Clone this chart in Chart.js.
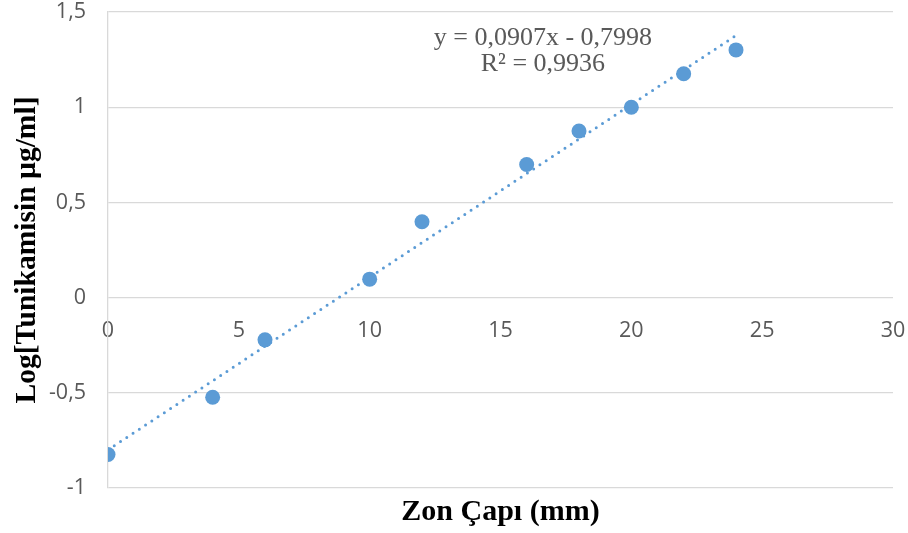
<!DOCTYPE html>
<html>
<head>
<meta charset="utf-8">
<script src="https://cdn.jsdelivr.net/npm/chart.js@4/dist/chart.umd.min.js"></script>
<style>
  html, body { margin: 0; padding: 0; background: #ffffff; }
  #wrap { width: 908px; height: 533px; }
</style>
</head>
<body>
<div id="wrap"><canvas id="c" width="908" height="533"></canvas></div>
<script>
// Zone diameter (mm) and log of tunicamycin concentration
const zoneDiameter = [0, 4, 6, 10, 12, 16, 18, 20, 22, 24];
const logConcentration = [-0.824, -0.523, -0.222, 0.097, 0.398, 0.699, 0.875, 1.0, 1.176, 1.301];

// Linear trendline coefficients and fit quality
const trendSlope = 0.0907;
const trendIntercept = -0.7998;
const trendR2 = 0.9936;

const xTicks = [0, 5, 10, 15, 20, 25, 30];
const yTicks = [-1, -0.5, 0, 0.5, 1, 1.5];

const xTitle = 'Zon Çapı (mm)';
const yTitle = 'Log[Tunikamisin µg/ml]';

const fmt = v => String(v).replace('.', ',');

const pointData = zoneDiameter.map((x, i) => ({ x: x, y: logConcentration[i] }));
const xMin = Math.min(...zoneDiameter), xMax = Math.max(...zoneDiameter);
const trendData = [xMin, xMax].map(x => ({ x: x, y: trendSlope * x + trendIntercept }));

const BLUE = '#5b9bd5';
const GRID = '#d9d9d9';
const TEXT = '#595959';

// Axis titles and the regression equation are painted after the chart
const annotations = {
  id: 'annotations',
  afterDraw(chart) {
    const { ctx, chartArea: a } = chart;
    ctx.save();
    ctx.fillStyle = '#000000';
    ctx.textAlign = 'center';
    ctx.textBaseline = 'middle';
    ctx.font = 'bold 30px "Liberation Serif", "Times New Roman", serif';
    ctx.fillText(xTitle, (a.left + a.right) / 2, 512);
    ctx.save();
    ctx.font = 'bold 29.5px "Liberation Serif", "Times New Roman", serif';
    ctx.translate(27, (a.top + a.bottom) / 2);
    ctx.rotate(-Math.PI / 2);
    ctx.fillText(yTitle, 0, 0);
    ctx.restore();

    ctx.fillStyle = TEXT;
    ctx.font = '26px "Liberation Serif", "Times New Roman", serif';
    const ex = a.left + (a.right - a.left) * 0.554;
    const eq = 'y = ' + fmt(trendSlope) + 'x - ' + fmt(Math.abs(trendIntercept));
    ctx.fillText(eq, ex, 38);
    ctx.fillText('R² = ' + fmt(trendR2), ex, 64);
    ctx.restore();
  }
};

const noEdgePadding = s => {
  s.paddingTop = 0; s.paddingBottom = 0; s.paddingLeft = 0; s.paddingRight = 0;
};

new Chart(document.getElementById('c'), {
  type: 'scatter',
  data: {
    datasets: [
      {
        type: 'line',
        data: trendData,
        borderColor: BLUE,
        borderWidth: 3,
        borderDash: [0, 7.5],
        borderCapStyle: 'round',
        pointRadius: 0,
        fill: false,
        order: 2
      },
      {
        data: pointData,
        backgroundColor: BLUE,
        borderColor: BLUE,
        borderWidth: 0,
        pointRadius: 7.5,
        order: 1
      }
    ]
  },
  options: {
    responsive: false,
    animation: false,
    layout: { padding: { left: 0, right: 15, top: 12, bottom: 45 } },
    plugins: { legend: { display: false }, tooltip: { enabled: false } },
    scales: {
      x: {
        type: 'linear',
        position: { y: 0 },
        min: 0, max: 30,
        afterBuildTicks: s => { s.ticks = xTicks.map(v => ({ value: v })); },
        afterFit: noEdgePadding,
        grid: { display: false },
        border: { display: false },
        ticks: {
          color: TEXT,
          font: { family: '"Open Sans", sans-serif', size: 21.5 },
          padding: 12,
          maxRotation: 0,
          callback: v => fmt(v)
        }
      },
      y: {
        type: 'linear',
        min: -1, max: 1.5,
        afterBuildTicks: s => { s.ticks = yTicks.map(v => ({ value: v })); },
        afterFit: s => { s.width = 108; noEdgePadding(s); },
        grid: { color: GRID, lineWidth: 1.3, drawTicks: false },
        border: { display: true, color: GRID, width: 1.3 },
        ticks: {
          color: TEXT,
          font: { family: '"Open Sans", sans-serif', size: 21.5, lineHeight: 1 },
          padding: 22,
          callback: v => fmt(v)
        }
      }
    }
  },
  plugins: [annotations]
});
</script>
</body>
</html>
